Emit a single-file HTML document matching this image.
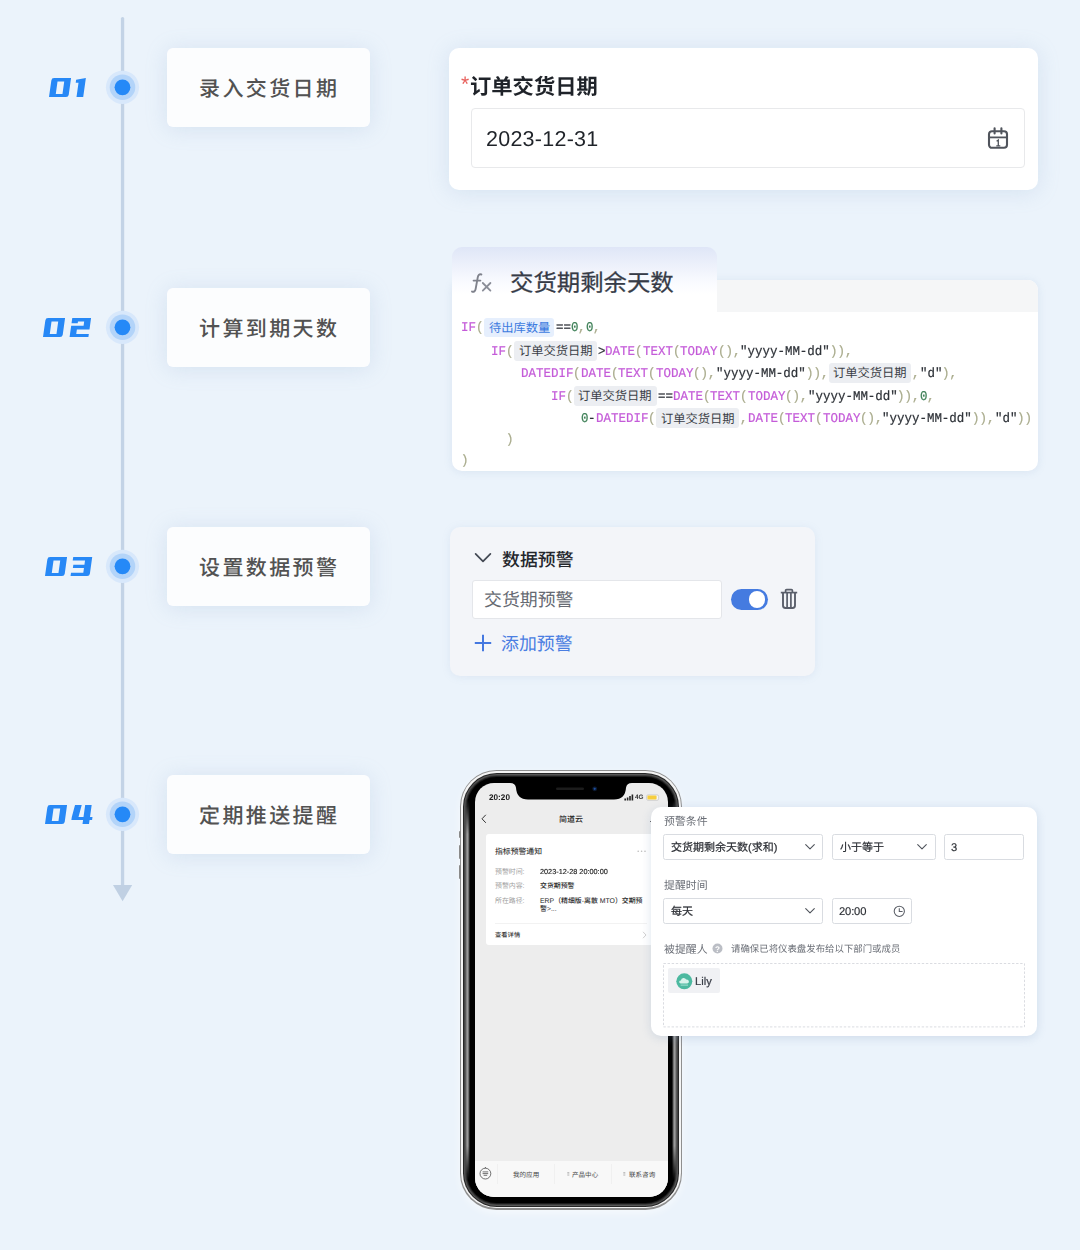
<!DOCTYPE html>
<html lang="zh"><head><meta charset="utf-8"><title>流程</title>
<style>
*{box-sizing:border-box;margin:0;padding:0}
html,body{width:1080px;height:1250px;overflow:hidden;background:#ebf3fb}
body{font-family:"Liberation Sans",sans-serif;color:#333;text-rendering:geometricPrecision}
#page{position:relative;width:1080px;height:1250px;overflow:hidden;background:#ebf3fb}
#page div,#page svg.t,#page span.a{position:absolute}
svg.t{overflow:visible;display:block}
svg.t text{font-family:"Liberation Sans","Noto Sans CJK SC",sans-serif;white-space:pre}
.lab{background:#fcfdfe;border-radius:6px;box-shadow:0 2px 21px rgba(135,168,205,.22)}
.card{background:#fff;border-radius:10px;box-shadow:0 2px 21px rgba(135,168,205,.22)}
.code{font:12.48px/18px "Liberation Mono",monospace;white-space:pre;letter-spacing:0;transform:scaleY(1.07);transform-origin:50% 50%}
span.a{will-change:transform}

</style></head>
<body>
<div id="page">
<svg class="t" style="left:118px;top:15px" width="10" height="876"><rect x="2.9" y="2" width="3.3" height="872" rx="1.6" fill="#c3d3e6"/></svg>
<svg class="t" style="left:112px;top:884px" width="22" height="18"><path d="M1 1H20.2L10.6 17.2Z" fill="#c0d0e3"/></svg>
<svg class="t" style="left:102px;top:67.0px" width="41" height="41"><circle cx="20.5" cy="20.3" r="16.6" fill="#d8e8fb"/><circle cx="20.5" cy="20.3" r="12.8" fill="#b3d4f9"/><circle cx="20.5" cy="20.3" r="7.9" fill="#2589f7"/></svg>
<svg class="t" style="left:102px;top:307.0px" width="41" height="41"><circle cx="20.5" cy="20.3" r="16.6" fill="#d8e8fb"/><circle cx="20.5" cy="20.3" r="12.8" fill="#b3d4f9"/><circle cx="20.5" cy="20.3" r="7.9" fill="#2589f7"/></svg>
<svg class="t" style="left:102px;top:546.0px" width="41" height="41"><circle cx="20.5" cy="20.3" r="16.6" fill="#d8e8fb"/><circle cx="20.5" cy="20.3" r="12.8" fill="#b3d4f9"/><circle cx="20.5" cy="20.3" r="7.9" fill="#2589f7"/></svg>
<svg class="t" style="left:102px;top:793.5px" width="41" height="41"><circle cx="20.5" cy="20.3" r="16.6" fill="#d8e8fb"/><circle cx="20.5" cy="20.3" r="12.8" fill="#b3d4f9"/><circle cx="20.5" cy="20.3" r="7.9" fill="#2589f7"/></svg>
<svg class="t" style="left:48.60px;top:78.00px" width="37.87" height="19.10"><title>01</title><path fill-rule="evenodd" fill="#2788f6" transform="matrix(1 0 -0.14 1 2.674 0)" d="M2.4 0H19.4V16.700000000000003Q19.4 19.1 17.0 19.1H0V2.4Q0 0 2.4 0ZM6.35 3.6V16.0H13.049999999999999V3.6ZM24.7 1.7L34.2 0V19.1H27.5V4.7H24.7Z"/></svg>
<svg class="t" style="left:42.80px;top:318.00px" width="49.07" height="19.10"><title>02</title><path fill-rule="evenodd" fill="#2788f6" transform="matrix(1 0 -0.14 1 2.674 0)" d="M2.4 0H19.4V16.700000000000003Q19.4 19.1 17.0 19.1H0V2.4Q0 0 2.4 0ZM6.35 3.6V16.0H13.049999999999999V3.6ZM26.6 0H45.400000000000006V11.4H32.800000000000004V16.0H45.400000000000006V19.1H26.6V7.8H39.00000000000001V3.6H32.800000000000004V5.3H26.6Z"/></svg>
<svg class="t" style="left:45.00px;top:557.10px" width="48.22" height="19.10"><title>03</title><path fill-rule="evenodd" fill="#2788f6" transform="matrix(1 0 -0.14 1 2.674 0)" d="M2.4 0H19.4V16.700000000000003Q19.4 19.1 17.0 19.1H0V2.4Q0 0 2.4 0ZM6.35 3.6V16.0H13.049999999999999V3.6ZM25.55 0H44.55V16.700000000000003Q44.55 19.1 42.15 19.1H25.55V15.8H37.849999999999994V11.1H26.75V7.8H37.849999999999994V3.6H25.55Z"/></svg>
<svg class="t" style="left:45.00px;top:805.00px" width="50.17" height="19.10"><title>04</title><path fill-rule="evenodd" fill="#2788f6" transform="matrix(1 0 -0.14 1 2.674 0)" d="M2.4 0H19.4V16.700000000000003Q19.4 19.1 17.0 19.1H0V2.4Q0 0 2.4 0ZM6.35 3.6V16.0H13.049999999999999V3.6ZM27.35 0H34.05L32.5 11.9H37.5V0H44.0V11.9H46.5V15H44.0V19.1H37.5V15H25.8V11.9Z"/></svg>
<div class="lab" style="left:167px;top:48px;width:203px;height:79px;"></div>
<svg class="t" style="left:197.30px;top:74.78px;" width="142.00" height="26.04" fill="#525252"><text x="2" y="21" font-size="21" font-weight="500" letter-spacing="2.4">录入交货日期</text></svg>
<div class="lab" style="left:167px;top:288px;width:203px;height:79px;"></div>
<svg class="t" style="left:197.30px;top:314.78px;" width="142.00" height="26.04" fill="#525252"><text x="2" y="21" font-size="21" font-weight="500" letter-spacing="2.4">计算到期天数</text></svg>
<div class="lab" style="left:167px;top:527px;width:203px;height:79px;"></div>
<svg class="t" style="left:197.30px;top:553.78px;" width="142.00" height="26.04" fill="#525252"><text x="2" y="21" font-size="21" font-weight="500" letter-spacing="2.4">设置数据预警</text></svg>
<div class="lab" style="left:167px;top:775px;width:203px;height:79px;"></div>
<svg class="t" style="left:197.30px;top:801.78px;" width="142.00" height="26.04" fill="#525252"><text x="2" y="21" font-size="21" font-weight="500" letter-spacing="2.4">定期推送提醒</text></svg>
<div class="card" style="left:449px;top:48px;width:589px;height:142px;"></div>
<span class="a" style="left:461.4px;top:72.4px;font:21px/26px 'Liberation Sans',sans-serif;color:#e8605c">*</span>
<svg class="t" style="left:467.60px;top:72.99px;" width="131.80" height="26.41" fill="#1f2329"><text x="2" y="21.3" font-size="21.3" font-weight="bold">订单交货日期</text></svg>
<div style="left:471px;top:108px;width:553.5px;height:59.5px;background:#fff;border:1px solid #e8e9eb;border-radius:4px"></div>
<span class="a" style="left:485.5px;top:124px;font:21.5px/30px 'Liberation Sans',sans-serif;color:#1f2329;letter-spacing:.25px">2023-12-31</span>
<svg class="t" style="left:987px;top:126.8px" width="22" height="23" fill="none" stroke="#50545c" stroke-width="2.1"><rect x="2" y="4.2" width="18" height="16.6" rx="3"/><path d="M2 10.4H20" stroke-width="1.8"/><path d="M7.6 1.2V6.4M14.4 1.2V6.4" stroke-linecap="round"/><path d="M9.6 14.2L11.3 13V18.6M9.3 18.8H13.3" stroke-width="1.3"/></svg>
<div style="left:452px;top:279.5px;width:586px;height:191px;background:#fff;border-radius:10px;box-shadow:0 1px 9px rgba(125,155,195,.16)"></div>
<div style="left:452px;top:279.5px;width:586px;height:32px;background:#f5f6f7;border-radius:10px 10px 0 0"></div>
<div style="left:452px;top:247px;width:265px;height:66px;background:linear-gradient(180deg,#dfe6f7 0%,#edf1fb 28%,#fafbff 55%,#fff 72%);border-radius:10px 10px 0 0"></div>
<div style="left:452px;top:300px;width:265px;height:14px;background:#fff"></div>
<svg class="t" style="left:470px;top:272px" width="24" height="22" fill="none" stroke="#7f828c" stroke-width="1.9" stroke-linecap="round"><path d="M11.4 2.5C9.4 1.8 8.2 3 7.8 5.2L5.6 17.2C5.2 19.2 3.8 20.2 2 19.6M3.6 8.6H10.4"/><path d="M12.8 11L20.4 18.6M20.4 11L12.8 18.6" stroke-width="1.8" stroke="#8b8e98"/></svg>
<svg class="t" style="left:508.30px;top:267.69px;" width="167.80" height="29.02" fill="#363b47" stroke="#363b47" stroke-width="0.25"><text x="2" y="23.4" font-size="23.4">交货期剩余天数</text></svg>
<span class="a code" style="left:461.10px;top:319.40px;color:#c45bd8;-webkit-text-stroke:.22px #c45bd8">IF</span>
<span class="a code" style="left:476.08px;top:319.40px;color:#a9ab8c;-webkit-text-stroke:.22px #a9ab8c">(</span>
<div style="left:484.07px;top:317.5px;width:70.35px;height:19.9px;background:#e6effd;border-radius:3px"></div>
<svg class="t" style="left:486.57px;top:319.84px;" width="65.35" height="15.21" fill="#3d7be0"><text x="2" y="12.27" font-size="12.27">待出库数量</text></svg>
<span class="a code" style="left:555.62px;top:319.40px;color:#2e3238;-webkit-text-stroke:.22px #2e3238">==</span>
<span class="a code" style="left:570.60px;top:319.40px;color:#3f8058;-webkit-text-stroke:.22px #3f8058">0</span>
<span class="a code" style="left:578.09px;top:319.40px;color:#a9ab8c;-webkit-text-stroke:.22px #a9ab8c">,</span>
<span class="a code" style="left:585.58px;top:319.40px;color:#3f8058;-webkit-text-stroke:.22px #3f8058">0</span>
<span class="a code" style="left:593.07px;top:319.40px;color:#a9ab8c;-webkit-text-stroke:.22px #a9ab8c">,</span>
<span class="a code" style="left:491.06px;top:342.60px;color:#c45bd8;-webkit-text-stroke:.22px #c45bd8">IF</span>
<span class="a code" style="left:506.04px;top:342.60px;color:#a9ab8c;-webkit-text-stroke:.22px #a9ab8c">(</span>
<div style="left:514.03px;top:340.7px;width:82.62px;height:19.9px;background:#eceef2;border-radius:3px"></div>
<svg class="t" style="left:516.53px;top:343.04px;" width="77.62" height="15.21" fill="#3b3f47"><text x="2" y="12.27" font-size="12.27">订单交货日期</text></svg>
<span class="a code" style="left:597.85px;top:342.60px;color:#2e3238;-webkit-text-stroke:.22px #2e3238">&gt;</span>
<span class="a code" style="left:605.34px;top:342.60px;color:#c45bd8;-webkit-text-stroke:.22px #c45bd8">DATE</span>
<span class="a code" style="left:635.30px;top:342.60px;color:#a9ab8c;-webkit-text-stroke:.22px #a9ab8c">(</span>
<span class="a code" style="left:642.79px;top:342.60px;color:#c45bd8;-webkit-text-stroke:.22px #c45bd8">TEXT</span>
<span class="a code" style="left:672.75px;top:342.60px;color:#a9ab8c;-webkit-text-stroke:.22px #a9ab8c">(</span>
<span class="a code" style="left:680.24px;top:342.60px;color:#c45bd8;-webkit-text-stroke:.22px #c45bd8">TODAY</span>
<span class="a code" style="left:717.69px;top:342.60px;color:#a9ab8c;-webkit-text-stroke:.22px #a9ab8c">(),</span>
<span class="a code" style="left:740.16px;top:342.60px;color:#2e3238;-webkit-text-stroke:.22px #2e3238">&quot;yyyy-MM-dd&quot;</span>
<span class="a code" style="left:830.04px;top:342.60px;color:#a9ab8c;-webkit-text-stroke:.22px #a9ab8c">)),</span>
<span class="a code" style="left:521.02px;top:365.00px;color:#c45bd8;-webkit-text-stroke:.22px #c45bd8">DATEDIF</span>
<span class="a code" style="left:573.45px;top:365.00px;color:#a9ab8c;-webkit-text-stroke:.22px #a9ab8c">(</span>
<span class="a code" style="left:580.94px;top:365.00px;color:#c45bd8;-webkit-text-stroke:.22px #c45bd8">DATE</span>
<span class="a code" style="left:610.90px;top:365.00px;color:#a9ab8c;-webkit-text-stroke:.22px #a9ab8c">(</span>
<span class="a code" style="left:618.39px;top:365.00px;color:#c45bd8;-webkit-text-stroke:.22px #c45bd8">TEXT</span>
<span class="a code" style="left:648.35px;top:365.00px;color:#a9ab8c;-webkit-text-stroke:.22px #a9ab8c">(</span>
<span class="a code" style="left:655.84px;top:365.00px;color:#c45bd8;-webkit-text-stroke:.22px #c45bd8">TODAY</span>
<span class="a code" style="left:693.29px;top:365.00px;color:#a9ab8c;-webkit-text-stroke:.22px #a9ab8c">(),</span>
<span class="a code" style="left:715.76px;top:365.00px;color:#2e3238;-webkit-text-stroke:.22px #2e3238">&quot;yyyy-MM-dd&quot;</span>
<span class="a code" style="left:805.64px;top:365.00px;color:#a9ab8c;-webkit-text-stroke:.22px #a9ab8c">)),</span>
<div style="left:828.61px;top:363.1px;width:82.62px;height:19.9px;background:#eceef2;border-radius:3px"></div>
<svg class="t" style="left:831.11px;top:365.44px;" width="77.62" height="15.21" fill="#3b3f47"><text x="2" y="12.27" font-size="12.27">订单交货日期</text></svg>
<span class="a code" style="left:912.43px;top:365.00px;color:#a9ab8c;-webkit-text-stroke:.22px #a9ab8c">,</span>
<span class="a code" style="left:919.92px;top:365.00px;color:#2e3238;-webkit-text-stroke:.22px #2e3238">&quot;d&quot;</span>
<span class="a code" style="left:942.39px;top:365.00px;color:#a9ab8c;-webkit-text-stroke:.22px #a9ab8c">),</span>
<span class="a code" style="left:550.98px;top:387.90px;color:#c45bd8;-webkit-text-stroke:.22px #c45bd8">IF</span>
<span class="a code" style="left:565.96px;top:387.90px;color:#a9ab8c;-webkit-text-stroke:.22px #a9ab8c">(</span>
<div style="left:573.95px;top:386.0px;width:82.62px;height:19.9px;background:#eceef2;border-radius:3px"></div>
<svg class="t" style="left:576.45px;top:388.34px;" width="77.62" height="15.21" fill="#3b3f47"><text x="2" y="12.27" font-size="12.27">订单交货日期</text></svg>
<span class="a code" style="left:657.77px;top:387.90px;color:#2e3238;-webkit-text-stroke:.22px #2e3238">==</span>
<span class="a code" style="left:672.75px;top:387.90px;color:#c45bd8;-webkit-text-stroke:.22px #c45bd8">DATE</span>
<span class="a code" style="left:702.71px;top:387.90px;color:#a9ab8c;-webkit-text-stroke:.22px #a9ab8c">(</span>
<span class="a code" style="left:710.20px;top:387.90px;color:#c45bd8;-webkit-text-stroke:.22px #c45bd8">TEXT</span>
<span class="a code" style="left:740.16px;top:387.90px;color:#a9ab8c;-webkit-text-stroke:.22px #a9ab8c">(</span>
<span class="a code" style="left:747.65px;top:387.90px;color:#c45bd8;-webkit-text-stroke:.22px #c45bd8">TODAY</span>
<span class="a code" style="left:785.10px;top:387.90px;color:#a9ab8c;-webkit-text-stroke:.22px #a9ab8c">(),</span>
<span class="a code" style="left:807.57px;top:387.90px;color:#2e3238;-webkit-text-stroke:.22px #2e3238">&quot;yyyy-MM-dd&quot;</span>
<span class="a code" style="left:897.45px;top:387.90px;color:#a9ab8c;-webkit-text-stroke:.22px #a9ab8c">)),</span>
<span class="a code" style="left:919.92px;top:387.90px;color:#3f8058;-webkit-text-stroke:.22px #3f8058">0</span>
<span class="a code" style="left:927.41px;top:387.90px;color:#a9ab8c;-webkit-text-stroke:.22px #a9ab8c">,</span>
<span class="a code" style="left:580.94px;top:410.10px;color:#3f8058;-webkit-text-stroke:.22px #3f8058">0</span>
<span class="a code" style="left:588.43px;top:410.10px;color:#2e3238;-webkit-text-stroke:.22px #2e3238">-</span>
<span class="a code" style="left:595.92px;top:410.10px;color:#c45bd8;-webkit-text-stroke:.22px #c45bd8">DATEDIF</span>
<span class="a code" style="left:648.35px;top:410.10px;color:#a9ab8c;-webkit-text-stroke:.22px #a9ab8c">(</span>
<div style="left:656.34px;top:408.2px;width:82.62px;height:19.9px;background:#eceef2;border-radius:3px"></div>
<svg class="t" style="left:658.84px;top:410.54px;" width="77.62" height="15.21" fill="#3b3f47"><text x="2" y="12.27" font-size="12.27">订单交货日期</text></svg>
<span class="a code" style="left:740.16px;top:410.10px;color:#a9ab8c;-webkit-text-stroke:.22px #a9ab8c">,</span>
<span class="a code" style="left:747.65px;top:410.10px;color:#c45bd8;-webkit-text-stroke:.22px #c45bd8">DATE</span>
<span class="a code" style="left:777.61px;top:410.10px;color:#a9ab8c;-webkit-text-stroke:.22px #a9ab8c">(</span>
<span class="a code" style="left:785.10px;top:410.10px;color:#c45bd8;-webkit-text-stroke:.22px #c45bd8">TEXT</span>
<span class="a code" style="left:815.06px;top:410.10px;color:#a9ab8c;-webkit-text-stroke:.22px #a9ab8c">(</span>
<span class="a code" style="left:822.55px;top:410.10px;color:#c45bd8;-webkit-text-stroke:.22px #c45bd8">TODAY</span>
<span class="a code" style="left:860.00px;top:410.10px;color:#a9ab8c;-webkit-text-stroke:.22px #a9ab8c">(),</span>
<span class="a code" style="left:882.47px;top:410.10px;color:#2e3238;-webkit-text-stroke:.22px #2e3238">&quot;yyyy-MM-dd&quot;</span>
<span class="a code" style="left:972.35px;top:410.10px;color:#a9ab8c;-webkit-text-stroke:.22px #a9ab8c">)),</span>
<span class="a code" style="left:994.82px;top:410.10px;color:#2e3238;-webkit-text-stroke:.22px #2e3238">&quot;d&quot;</span>
<span class="a code" style="left:1017.29px;top:410.10px;color:#a9ab8c;-webkit-text-stroke:.22px #a9ab8c">))</span>
<span class="a code" style="left:506.04px;top:430.60px;color:#a9ab8c;-webkit-text-stroke:.22px #a9ab8c">)</span>
<span class="a code" style="left:461.10px;top:451.50px;color:#a9ab8c;-webkit-text-stroke:.22px #a9ab8c">)</span>
<div style="left:450px;top:527px;width:365.4px;height:149px;background:#f3f5f9;border-radius:10px;box-shadow:0 1px 9px rgba(125,155,195,.13)"></div>
<svg class="t" style="left:473px;top:551px" width="20" height="14" fill="none" stroke="#434954" stroke-width="1.7" stroke-linecap="round" stroke-linejoin="round"><path d="M2.6 2.8L10 10.4L17.4 2.8"/></svg>
<svg class="t" style="left:499.80px;top:548.10px;" width="75.60" height="22.20" fill="#23262c"><text x="2" y="17.9" font-size="17.9" font-weight="500">数据预警</text></svg>
<div style="left:472px;top:579.5px;width:250px;height:39px;background:#fff;border:1px solid #e4e6ea;border-radius:3px"></div>
<svg class="t" style="left:481.80px;top:587.80px;" width="93.50" height="22.20" fill="#666a72"><text x="2" y="17.9" font-size="17.9">交货期预警</text></svg>
<div style="left:731px;top:589px;width:37.2px;height:21px;background:#457be0;border-radius:11px"></div>
<div style="left:749.2px;top:591.4px;width:16.2px;height:16.2px;background:#fff;border-radius:50%"></div>
<svg class="t" style="left:780px;top:588px" width="18" height="22" fill="none" stroke="#5a5f6b" stroke-width="1.9"><path d="M0.8 4.6H17.2" stroke-width="1.7"/><path d="M5.6 4.2V2.6Q5.6 1.6 6.6 1.6H11.4Q12.4 1.6 12.4 2.6V4.2" stroke-width="1.7"/><path d="M3 5V17.6Q3 20 5.4 20H12.6Q15 20 15 17.6V5"/><path d="M7.1 5V19.6M10.9 5V19.6" stroke-width="1.7"/></svg>
<svg class="t" style="left:473px;top:633px" width="20" height="20" fill="none" stroke="#4478e0" stroke-width="2"><path d="M10 1.8V18.2M1.8 10H18.2"/></svg>
<svg class="t" style="left:499.00px;top:631.70px;" width="75.60" height="22.20" fill="#4a7ee2"><text x="2" y="17.9" font-size="17.9">添加预警</text></svg>
<div style="left:460px;top:770px;width:222px;height:439.5px;border-radius:36.5px;background:#8f8f8f;box-shadow:0 3px 8px rgba(255,255,255,.55)"></div>
<div style="left:461.4px;top:771.3px;width:219.2px;height:436.9px;border-radius:35.2px;background:#f4f4f4"></div>
<div style="left:462.9px;top:772.7px;width:216.2px;height:434.2px;border-radius:33.8px;background:#262626"></div>
<div style="left:463.8px;top:773.6px;width:214.4px;height:432.4px;border-radius:33px;background:#585858"></div>
<div style="left:465.0px;top:774.8px;width:212.0px;height:430.0px;border-radius:31.8px;background:#3c3c3c"></div>
<div style="left:466.2px;top:776.0px;width:209.6px;height:427.6px;border-radius:30.6px;background:#1c1c1c"></div>
<div style="left:467.2px;top:777.0px;width:207.6px;height:425.6px;border-radius:29.6px;background:#000"></div>
<div style="left:464.2px;top:800px;width:6.2px;height:380px;background:linear-gradient(90deg,#3a3a3a 0%,#5a5a5a 25%,#a2a2a2 55%,#6a6a6a 78%,#000 100%);-webkit-mask-image:linear-gradient(180deg,transparent 0,#000 9%,#000 91%,transparent 100%);mask-image:linear-gradient(180deg,transparent 0,#000 9%,#000 91%,transparent 100%)"></div>
<div style="left:671.6px;top:800px;width:6.2px;height:380px;background:linear-gradient(270deg,#3a3a3a 0%,#5a5a5a 25%,#a2a2a2 55%,#6a6a6a 78%,#000 100%);-webkit-mask-image:linear-gradient(180deg,transparent 0,#000 9%,#000 91%,transparent 100%);mask-image:linear-gradient(180deg,transparent 0,#000 9%,#000 91%,transparent 100%)"></div>
<div style="left:459px;top:831px;width:1.6px;height:7px;background:#8a8a8a;border-radius:1px"></div>
<div style="left:459px;top:845px;width:1.6px;height:14px;background:#8a8a8a;border-radius:1px"></div>
<div style="left:459px;top:865px;width:1.6px;height:14px;background:#8a8a8a;border-radius:1px"></div>
<div style="left:681.6px;top:852px;width:1.4px;height:24px;background:#8a8a8a;border-radius:1px"></div>
<div id="scr" style="left:474.5px;top:783.0px;width:193.0px;height:414.2px;border-radius:19px;background:#ededed;overflow:hidden">
<svg class="t" style="left:35.5px;top:0" width="122" height="18"><path fill="#000" d="M0 0H122V0Q116.6 0 116 4.8Q115.4 16.4 104 16.4H18Q6.6 16.4 6 4.8Q5.4 0 0 0Z"/><rect x="46" y="4.5" width="28" height="2.6" rx="1.3" fill="#1c1c1c"/><circle cx="84.7" cy="5.8" r="2.4" fill="#0c1a33"/><circle cx="84.7" cy="5.8" r="1.1" fill="#1d4fa0"/></svg>
<span class="a" style="left:14.3px;top:6.8px;font:bold 8.2px/15px 'Liberation Sans',sans-serif;color:#1a1a1a;letter-spacing:0">20:20</span>
<svg class="t" style="left:149.1px;top:10.6px" width="36" height="7"><path fill="#222" d="M0.4 4.6h1.6v1.8h-1.6zM2.8 3.4h1.6v3h-1.6zM5.2 2h1.6v4.4h-1.6zM7.6 0.6h1.6v5.8h-1.6z"/><rect x="22.6" y="0.9" width="12" height="5.4" rx="1.5" fill="#f7f7f7" stroke="#bbb" stroke-width=".6"/><rect x="23.4" y="1.6" width="9.2" height="4" rx="1" fill="#f6ce3e"/></svg>
<span class="a" style="left:160.9px;top:9.8px;font:bold 6.4px/10px 'Liberation Sans',sans-serif;color:#333">4G</span>
<svg class="t" style="left:6.3px;top:31.0px" width="6" height="10" fill="none" stroke="#333" stroke-width="1"><path d="M4.8 0.8L1 4.8L4.8 8.8"/></svg>
<svg class="t" style="left:82.30px;top:30.74px;" width="28.00" height="9.92" fill="#222"><text x="2" y="8" font-size="8" font-weight="500">简道云</text></svg>
<div style="left:175.5px;top:37.5px;width:1.4px;height:1.4px;background:#333;border-radius:50%"></div>
<div style="left:11.3px;top:51.3px;width:177.5px;height:110.8px;background:#fff;border-radius:3px"></div>
<svg class="t" style="left:18.80px;top:62.73px;" width="51.10" height="9.73" fill="#3a3a3a"><text x="2" y="7.85" font-size="7.85" font-weight="500">指标预警通知</text></svg>
<svg class="t" style="left:162.9px;top:66.6px" width="10" height="3" fill="#bbb"><circle cx="1.2" cy="1.2" r=".8"/><circle cx="4.6" cy="1.2" r=".8"/><circle cx="8" cy="1.2" r=".8"/></svg>
<svg class="t" style="left:18.80px;top:84.22px;" width="33.52" height="8.56" fill="#9c9c9c"><text x="2" y="6.9" font-size="6.9">预警时间:</text></svg>
<svg class="t" style="left:18.80px;top:98.32px;" width="33.52" height="8.56" fill="#9c9c9c"><text x="2" y="6.9" font-size="6.9">预警内容:</text></svg>
<svg class="t" style="left:18.80px;top:112.72px;" width="33.52" height="8.56" fill="#9c9c9c"><text x="2" y="6.9" font-size="6.9">所在路径:</text></svg>
<span class="a" style="left:65.7px;top:84.3px;font:7.3px/10px 'Liberation Sans',sans-serif;color:#222;white-space:pre;-webkit-text-stroke:.15px #222">2023-12-28 20:00:00</span>
<svg class="t" style="left:63.80px;top:98.32px;" width="38.50" height="8.56" fill="#262626"><text x="2" y="6.9" font-size="6.9" font-weight="500">交货期预警</text></svg>
<svg class="t" style="left:63.80px;top:112.72px;" width="106.99" height="8.56" fill="#262626"><text x="2" y="6.9" font-size="6.9" font-weight="500">ERP（精细版-离散 MTO）交期预</text></svg>
<svg class="t" style="left:63.80px;top:120.62px;" width="21.00" height="8.56" fill="#262626"><text x="2" y="6.9" font-size="6.9" font-weight="500">警&gt;...</text></svg>
<div style="left:20.8px;top:140.0px;width:152px;height:1px;background:#f2f2f2"></div>
<svg class="t" style="left:18.80px;top:147.69px;" width="29.20" height="7.81" fill="#333"><text x="2" y="6.3" font-size="6.3" font-weight="500">查看详情</text></svg>
<svg class="t" style="left:167.5px;top:147.6px" width="5" height="8" fill="none" stroke="#c4c4c4" stroke-width=".8"><path d="M1 0.8L4 4L1 7.2"/></svg>
<div style="left:0px;top:377.8px;width:193.0px;height:40px;background:#f8f8f8"></div>
<div style="left:22.8px;top:380.5px;width:1px;height:20px;background:#f0f0f0"></div>
<div style="left:79.8px;top:380.5px;width:1px;height:20px;background:#f0f0f0"></div>
<div style="left:136.9px;top:380.5px;width:1px;height:20px;background:#f0f0f0"></div>
<svg class="t" style="left:4.9px;top:383.4px" width="13" height="14" fill="none" stroke="#444" stroke-width=".75"><circle cx="6.4" cy="7.6" r="5.4"/><path d="M3.6 5.9H9.2M3.6 7.6H9.2M4.6 9.3H8.2M6.4 1V2.2"/></svg>
<svg class="t" style="left:36.50px;top:386.74px;" width="30.20" height="8.12" fill="#444"><text x="2" y="6.55" font-size="6.55">我的应用</text></svg>
<svg class="t" style="left:95.50px;top:386.74px;" width="30.20" height="8.12" fill="#444"><text x="2" y="6.55" font-size="6.55">产品中心</text></svg>
<svg class="t" style="left:152.20px;top:386.74px;" width="30.20" height="8.12" fill="#444"><text x="2" y="6.55" font-size="6.55">联系咨询</text></svg>
<svg class="t" style="left:92.1px;top:388.6px" width="3" height="4" fill="#999"><rect x=".3" y=".4" width="2" height=".6"/><rect x=".3" y="1.6" width="2" height=".6"/><rect x=".3" y="2.8" width="2" height=".6"/></svg>
<svg class="t" style="left:148.7px;top:388.6px" width="3" height="4" fill="#999"><rect x=".3" y=".4" width="2" height=".6"/><rect x=".3" y="1.6" width="2" height=".6"/><rect x=".3" y="2.8" width="2" height=".6"/></svg>
</div>
<div style="left:651px;top:807px;width:386px;height:228.8px;background:#fff;border-radius:10px;box-shadow:0 2px 10px rgba(115,145,185,.24)"></div>
<svg class="t" style="left:661.80px;top:813.84px;" width="47.60" height="13.52" fill="#6a6e76"><text x="2" y="10.9" font-size="10.9">预警条件</text></svg>
<div style="left:663px;top:834.2px;width:160.3px;height:25.4px;background:#fff;border:1px solid #d9dce1;border-radius:2.5px"></div>
<svg class="t" style="left:668.80px;top:840.18px;" width="110.44" height="13.64" fill="#2a2d33" stroke="#2a2d33" stroke-width="0.2"><text x="2" y="11" font-size="11">交货期剩余天数(求和)</text></svg>
<svg class="t" style="left:804.0px;top:843.2px" width="12" height="8" fill="none" stroke="#50545c" stroke-width="1.1" stroke-linecap="round" stroke-linejoin="round"><path d="M1.7 1.6L6 5.9L10.3 1.6"/></svg>
<div style="left:832px;top:834.2px;width:103.5px;height:25.4px;background:#fff;border:1px solid #d9dce1;border-radius:2.5px"></div>
<svg class="t" style="left:837.60px;top:840.18px;" width="48.00" height="13.64" fill="#2a2d33" stroke="#2a2d33" stroke-width="0.2"><text x="2" y="11" font-size="11">小于等于</text></svg>
<svg class="t" style="left:916.2px;top:843.2px" width="12" height="8" fill="none" stroke="#50545c" stroke-width="1.1" stroke-linecap="round" stroke-linejoin="round"><path d="M1.7 1.6L6 5.9L10.3 1.6"/></svg>
<div style="left:943.6px;top:834.2px;width:80.2px;height:25.4px;background:#fff;border:1px solid #d9dce1;border-radius:2.5px"></div>
<span class="a" style="left:950.6px;top:840.5px;font:11.2px/14px 'Liberation Sans',sans-serif;color:#2a2d33;-webkit-text-stroke:.15px #2a2d33">3</span>
<svg class="t" style="left:661.80px;top:878.44px;" width="47.60" height="13.52" fill="#6a6e76"><text x="2" y="10.9" font-size="10.9">提醒时间</text></svg>
<div style="left:663px;top:898.2px;width:160.3px;height:25.4px;background:#fff;border:1px solid #d9dce1;border-radius:2.5px"></div>
<svg class="t" style="left:668.80px;top:904.18px;" width="26.00" height="13.64" fill="#2a2d33" stroke="#2a2d33" stroke-width="0.2"><text x="2" y="11" font-size="11">每天</text></svg>
<svg class="t" style="left:804.0px;top:907.2px" width="12" height="8" fill="none" stroke="#50545c" stroke-width="1.1" stroke-linecap="round" stroke-linejoin="round"><path d="M1.7 1.6L6 5.9L10.3 1.6"/></svg>
<div style="left:832px;top:898.2px;width:79.8px;height:25.4px;background:#fff;border:1px solid #d9dce1;border-radius:2.5px"></div>
<span class="a" style="left:839.2px;top:904.6px;font:11.2px/14px 'Liberation Sans',sans-serif;color:#2a2d33;letter-spacing:-.15px;-webkit-text-stroke:.15px #2a2d33">20:00</span>
<svg class="t" style="left:893.2px;top:904.6px" width="13" height="13" fill="none" stroke="#5a5e66" stroke-width="1.05"><circle cx="6.3" cy="6.3" r="5.1"/><path d="M6.3 3.2V6.5H9.6"/></svg>
<svg class="t" style="left:661.80px;top:942.44px;" width="47.60" height="13.52" fill="#6a6e76"><text x="2" y="10.9" font-size="10.9">被提醒人</text></svg>
<svg class="t" style="left:712px;top:943.2px" width="12" height="12"><circle cx="5.5" cy="5.5" r="5" fill="#bbbec5"/><text x="5.5" y="8.5" font-family="Liberation Sans,sans-serif" font-weight="bold" font-size="8.2" fill="#fff" text-anchor="middle">?</text></svg>
<svg class="t" style="left:729.00px;top:943.46px;" width="173.56" height="11.68" fill="#6a6e76"><text x="2" y="9.42" font-size="9.42">请确保已将仪表盘发布给以下部门或成员</text></svg>
<svg class="t" style="left:662px;top:962px" width="364" height="66"><rect x="1.5" y="1.5" width="361" height="63.4" fill="none" stroke="#d6d8de" stroke-width="0.9" stroke-dasharray="2.4 1.7"/></svg>
<div style="left:668px;top:967.8px;width:52.4px;height:25px;background:#f0f1f4;border-radius:2px"></div>
<svg class="t" style="left:675.6px;top:973px" width="17" height="17"><circle cx="8.3" cy="8.3" r="8" fill="#4cb9a0"/><path d="M4.6 10.4Q2.9 10.2 3.2 8.6Q3.5 7.3 4.9 7.4Q5.2 5.2 7.3 4.9Q9.4 4.7 10.2 6.5Q12.4 6.2 12.9 8.2Q13.2 10.3 11.2 10.4Z" fill="#d9f3ec"/><rect x="4.6" y="11.6" width="7.4" height="1" fill="#a5e0d2"/></svg>
<span class="a" style="left:695.1px;top:974.6px;font:11.2px/14px 'Liberation Sans',sans-serif;color:#393d47;-webkit-text-stroke:.2px #393d47">Lily</span>
</div>
</body></html>
